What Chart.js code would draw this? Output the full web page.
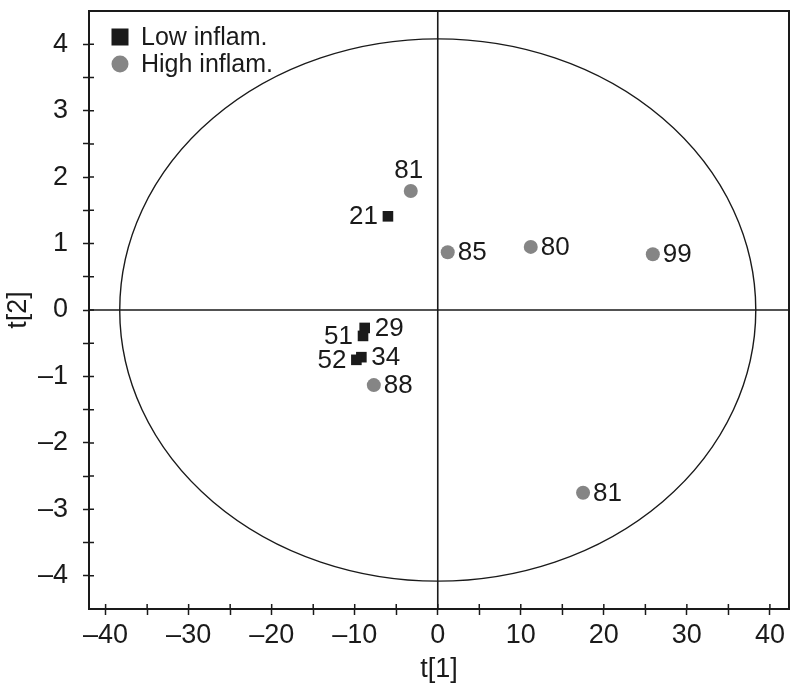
<!DOCTYPE html>
<html>
<head>
<meta charset="utf-8">
<script src="https://cdn.jsdelivr.net/npm/chart.js@4/dist/chart.umd.min.js"></script>
<style>
  html, body { margin: 0; padding: 0; background: #fff; }
  #wrap { width: 800px; height: 698px; }
</style>
</head>
<body>
<div id="wrap"><canvas id="score-plot"></canvas></div>
<script>
const lowX = [-6.0, -8.8, -9.0, -9.2, -9.8];
const lowY = [1.41, -0.27, -0.39, -0.71, -0.75];
const lowLabels = ['21', '29', '51', '34', '52'];
const lowSides = ['left', 'right', 'left', 'right', 'left'];

const highX = [-3.25, 1.2, 11.2, 25.9, -7.7, 17.5];
const highY = [1.79, 0.87, 0.95, 0.84, -1.13, -2.75];
const highLabels = ['81', '85', '80', '99', '88', '81'];
const highSides = ['top', 'right', 'right', 'right', 'right', 'right'];

const xTickValues = [-40, -35, -30, -25, -20, -15, -10, -5, 0, 5, 10, 15, 20, 25, 30, 35, 40];
const yTickValues = [-4, -3.5, -3, -2.5, -2, -1.5, -1, -0.5, 0, 0.5, 1, 1.5, 2, 2.5, 3, 3.5, 4];

const ellipseRadiusX = 38.3;
const ellipseRadiusY = 4.08;

const fontFamily = '"Liberation Sans", Arial, sans-serif';
const canvas = document.getElementById('score-plot');

function toPoints(xs, ys) {
    return xs.map(function (x, i) { return { x: x, y: ys[i] }; });
}

function dashNumber(v) {
    return v < 0 ? '\u2013' + Math.abs(v) : String(v);
}

// ellipse, zero lines, frame and inner tick stubs
const backgroundPlugin = {
    id: 'background',
    beforeDatasetsDraw(chart) {
        const ctx = chart.ctx;
        const area = chart.chartArea;
        const xs = chart.scales.x;
        const ys = chart.scales.y;
        const cx = xs.getPixelForValue(0);
        const cy = ys.getPixelForValue(0);
        ctx.save();
        ctx.strokeStyle = '#1a1a1a';
        ctx.lineWidth = 1.4;
        ctx.beginPath();
        ctx.ellipse(cx, cy,
            xs.getPixelForValue(ellipseRadiusX) - cx,
            cy - ys.getPixelForValue(ellipseRadiusY), 0, 0, Math.PI * 2);
        ctx.stroke();

        ctx.lineWidth = 1.6;
        ctx.beginPath();
        ctx.moveTo(cx, area.top);
        ctx.lineTo(cx, area.bottom);
        ctx.moveTo(area.left, cy);
        ctx.lineTo(area.right, cy);
        ctx.stroke();

        ctx.lineWidth = 2;
        ctx.strokeRect(area.left, area.top, area.right - area.left, area.bottom - area.top);

        ctx.lineWidth = 1.5;
        ctx.beginPath();
        xTickValues.forEach(function (v) {
            const px = xs.getPixelForValue(v);
            ctx.moveTo(px, area.bottom);
            ctx.lineTo(px, area.bottom - 5);
        });
        yTickValues.forEach(function (v) {
            const py = ys.getPixelForValue(v);
            ctx.moveTo(area.left, py);
            ctx.lineTo(area.left + 5, py);
        });
        ctx.stroke();
        ctx.restore();
    }
};

// point labels and the legend inside the plot
const labelPlugin = {
    id: 'pointLabels',
    afterDatasetsDraw(chart) {
        const ctx = chart.ctx;
        ctx.save();
        ctx.font = '26px ' + fontFamily;
        ctx.fillStyle = '#1a1a1a';
        chart.data.datasets.forEach(function (ds, di) {
            const meta = chart.getDatasetMeta(di);
            meta.data.forEach(function (el, i) {
                const side = ds.sides[i];
                const text = ds.pointLabels[i];
                if (side === 'right') {
                    ctx.textAlign = 'left';
                    ctx.textBaseline = 'middle';
                    ctx.fillText(text, el.x + 10, el.y + 1);
                } else if (side === 'left') {
                    ctx.textAlign = 'right';
                    ctx.textBaseline = 'middle';
                    ctx.fillText(text, el.x - 10, el.y + 1);
                } else {
                    ctx.textAlign = 'center';
                    ctx.textBaseline = 'alphabetic';
                    ctx.fillText(text, el.x - 2, el.y - 13);
                }
            });
        });

        const area = chart.chartArea;
        ctx.font = '25px ' + fontFamily;
        ctx.textAlign = 'left';
        ctx.textBaseline = 'middle';
        chart.data.datasets.forEach(function (ds, di) {
            const y = area.top + 26 + di * 27;
            const x = area.left + 31;
            ctx.fillStyle = ds.backgroundColor;
            if (ds.pointStyle === 'rect') {
                ctx.fillRect(x - 8.5, y - 8.5, 17, 17);
            } else {
                ctx.beginPath();
                ctx.arc(x, y, 8.5, 0, Math.PI * 2);
                ctx.fill();
            }
            ctx.fillStyle = '#1a1a1a';
            ctx.fillText(ds.label, x + 21, y + 1);
        });
        ctx.restore();
    }
};

new Chart(canvas, {
    type: 'scatter',
    data: {
        datasets: [{
            label: 'Low inflam.',
            data: toPoints(lowX, lowY),
            pointLabels: lowLabels,
            sides: lowSides,
            pointStyle: 'rect',
            pointRadius: 7.5,
            backgroundColor: '#1a1a1a',
            borderColor: '#1a1a1a',
            borderWidth: 0
        }, {
            label: 'High inflam.',
            data: toPoints(highX, highY),
            pointLabels: highLabels,
            sides: highSides,
            pointStyle: 'circle',
            pointRadius: 7,
            backgroundColor: '#858585',
            borderColor: '#858585',
            borderWidth: 0
        }]
    },
    options: {
        responsive: true,
        maintainAspectRatio: false,
        animation: false,
        layout: { padding: { top: 11, right: 11, left: 0, bottom: 0 } },
        plugins: {
            legend: { display: false },
            tooltip: { enabled: false }
        },
        scales: {
            x: {
                type: 'linear',
                min: -42,
                max: 42.3,
                afterBuildTicks: function (axis) {
                    axis.ticks = xTickValues.map(function (v) { return { value: v }; });
                },
                afterFit: function (scale) {
                    scale.height = 89;
                    scale.paddingLeft = 0;
                    scale.paddingRight = 0;
                },
                grid: {
                    drawOnChartArea: false,
                    drawTicks: true,
                    tickLength: 6,
                    tickColor: '#1a1a1a',
                    tickWidth: 1.5
                },
                border: { display: false },
                ticks: {
                    autoSkip: false,
                    maxRotation: 0,
                    padding: 4,
                    color: '#1a1a1a',
                    font: { family: fontFamily, size: 27 },
                    callback: function (v) { return v % 10 === 0 ? dashNumber(v) : ''; }
                },
                title: {
                    display: true,
                    text: 't[1]',
                    color: '#1a1a1a',
                    font: { family: fontFamily, size: 27 },
                    padding: { top: 0, bottom: 12 }
                }
            },
            y: {
                type: 'linear',
                min: -4.5,
                max: 4.5,
                afterBuildTicks: function (axis) {
                    axis.ticks = yTickValues.map(function (v) { return { value: v }; });
                },
                afterFit: function (scale) {
                    scale.width = 89;
                    scale.paddingTop = 0;
                    scale.paddingBottom = 0;
                },
                grid: {
                    drawOnChartArea: false,
                    drawTicks: true,
                    tickLength: 6,
                    tickColor: '#1a1a1a',
                    tickWidth: 1.5
                },
                border: { display: false },
                ticks: {
                    autoSkip: false,
                    padding: 15,
                    color: '#1a1a1a',
                    font: { family: fontFamily, size: 27 },
                    callback: function (v) { return Number.isInteger(v) ? dashNumber(v) : ''; }
                },
                title: {
                    display: true,
                    text: 't[2]',
                    color: '#1a1a1a',
                    font: { family: fontFamily, size: 27 },
                    padding: { top: 2, bottom: 0 }
                }
            }
        }
    },
    plugins: [backgroundPlugin, labelPlugin]
});
</script>
</body>
</html>
